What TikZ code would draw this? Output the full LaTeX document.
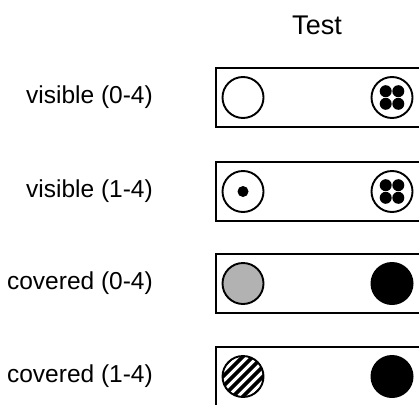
\documentclass[tikz,border=0pt]{standalone}
\usepackage{fontspec}
\setmainfont{Liberation Sans}
\usetikzlibrary{positioning}
\definecolor{StimGray}{HTML}{B2B2B2}
\tikzset{
  trial/.style={draw=black, line width=1.9pt, minimum width=240pt, minimum height=59pt, inner sep=0pt},
  stim/.style={circle, draw=black, line width=1.9pt, minimum size=41pt, inner sep=0pt},
  solid/.style={circle, fill=black, minimum size=43pt, inner sep=0pt},
  dot/.style={circle, fill=black, minimum size=12pt, inner sep=0pt},
  cond/.style={font=\fontsize{24.5}{28}\selectfont, inner sep=0pt}
}

\begin{document}
\begin{tikzpicture}[x=1pt, y=-1pt]
\useasboundingbox (0,0) rectangle (419,404);
\node[font=\fontsize{27}{30}\selectfont] (test) at (317,25) {Test};
% rows of the test display
\node[trial, anchor=west] (vis0) at (215,97.5) {};
\node[trial, anchor=west] (vis1) at (215,191.5) {};
\node[trial, anchor=west] (cov0) at (215,283.5) {};
\node[trial, anchor=west] (cov1) at (215,376.5) {};
\node[cond, left=62pt of vis0] (lvis0) {visible (0-4)};
\node[cond, left=62pt of vis1] (lvis1) {visible (1-4)};
\node[cond, left=62pt of cov0] (lcov0) {covered (0-4)};
\node[cond, left=62pt of cov1] (lcov1) {covered (1-4)};
% left stimuli
\node[stim] (svis0) at ([xshift=28pt]vis0.west) {};
\node[stim] (svis1) at ([xshift=28pt]vis1.west) {};
\node[dot, minimum size=11pt] (cvis1) at (svis1.center) {};
\node[stim, fill=StimGray] (scov0) at ([xshift=28pt]cov0.west) {};
\coordinate (scov1) at ([xshift=28pt]cov1.west);
\begin{scope}
  \clip (scov1) circle (20pt);
  \foreach \d in {-50,-40,...,50}
    \draw[line width=3.6pt] ([shift={(\d-30,30)}]scov1) -- ([shift={(\d+30,-30)}]scov1);
\end{scope}
\node[stim] (hcov1) at (scov1) {};
% right stimuli
\foreach \r in {vis0,vis1}{
  \node[stim] (t\r) at ([xshift=177pt]\r.west) {};
  \foreach \dx/\dy in {-6.3/-6.3,6.3/-6.3,-6.3/6.3,6.3/6.3}
    \node[dot] at ([shift={(\dx,\dy)}]t\r.center) {};
}
\node[solid] (tcov0) at ([xshift=177pt]cov0.west) {};
\node[solid] (tcov1) at ([xshift=177pt]cov1.west) {};
\end{tikzpicture}
\end{document}
